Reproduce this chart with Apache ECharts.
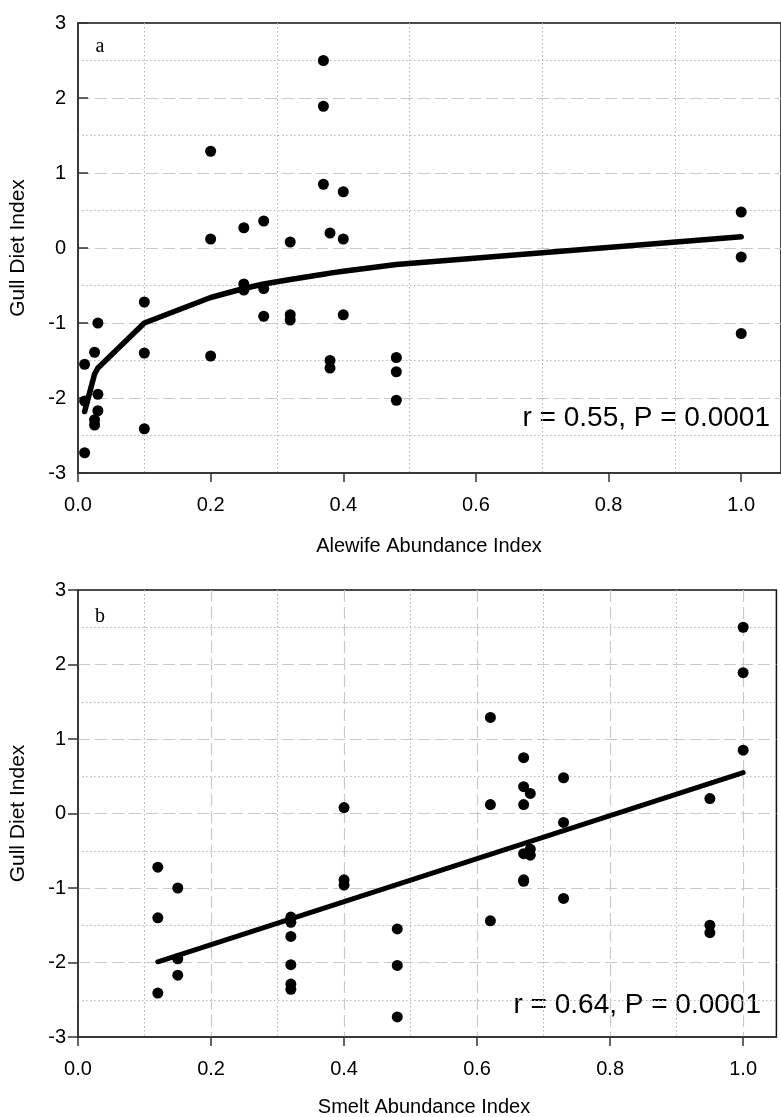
<!DOCTYPE html>
<html>
<head>
<meta charset="utf-8">
<script src="https://cdn.jsdelivr.net/npm/echarts@6/dist/echarts.min.js"></script>
<style>
  html, body { margin: 0; padding: 0; background: #fff; }
  #chart { width: 781px; height: 1117px; }
</style>
</head>
<body>
<div id="chart"></div>
<script>
// one entry per year, three colonies per year
const alewifeIndex = [0.01, 0.025, 0.03, 0.10, 0.20, 0.25, 0.28, 0.32, 0.37, 0.38, 0.40, 0.48, 1.00];
const smeltIndex   = [0.48, 0.32, 0.15, 0.12, 0.62, 0.68, 0.67, 0.40, 1.00, 0.95, 0.67, 0.32, 0.73];
const dietIndex = [
  [-1.55, -2.04, -2.73],
  [-1.39, -2.29, -2.36],
  [-1.00, -1.95, -2.17],
  [-0.72, -1.40, -2.41],
  [1.29, 0.12, -1.44],
  [0.27, -0.48, -0.56],
  [0.36, -0.54, -0.91],
  [0.08, -0.89, -0.96],
  [2.50, 1.89, 0.85],
  [0.20, -1.50, -1.60],
  [0.75, 0.12, -0.89],
  [-1.46, -1.65, -2.03],
  [0.48, -0.12, -1.14],
];

const alewifeFit = [-2.18, -1.68, -1.60, -1.00, -0.66, -0.54, -0.48, -0.42, -0.35, -0.335, -0.31, -0.22, 0.15];
// fitted line (panel b)
const smeltFitX = [0.12, 1.00];
const smeltFitY = [-1.99, 0.55];

const xTicks = [0, 0.2, 0.4, 0.6, 0.8, 1.0];
const panelLabels = ['a', 'b'];
const xTitles = ['Alewife Abundance Index', 'Smelt Abundance Index'];
const yTitle = 'Gull Diet Index';
const statTexts = ['r = 0.55, P = 0.0001', 'r = 0.64, P = 0.0001'];

const FONT = 'Liberation Sans, Arial, Helvetica, sans-serif';
const DASH = '#c9c9c9';
const DOT = '#b5b5b5';
const NONE = 'rgba(0,0,0,0)';

function points(xs) {
  const out = [];
  xs.forEach((x, i) => dietIndex[i].forEach(y => out.push([x, y])));
  return out;
}

function yAxis(gridIndex, tickInside) {
  return {
    type: 'value', gridIndex, min: -3, max: 3, interval: 1,
    name: yTitle, nameLocation: 'middle', nameGap: 49,
    nameTextStyle: { fontSize: 21, color: '#000', fontFamily: FONT },
    axisLine: { show: true, lineStyle: { color: '#333', width: 1.5 } },
    axisTick: { show: true, inside: tickInside, length: 10, lineStyle: { color: '#333', width: 1.5 } },
    axisLabel: { fontSize: 20, color: '#000', margin: 12, fontFamily: FONT },
    splitLine: { show: true, lineStyle: { color: [NONE, DASH, DASH, DASH, DASH, DASH, NONE], type: [12, 5], width: 1.2 } },
    minorTick: { show: false, splitNumber: 2 },
    minorSplitLine: { show: true, lineStyle: { color: DOT, type: [1.5, 2.5], width: 1 } },
  };
}

function xAxis(gridIndex, max, dashed) {
  return {
    type: 'value', gridIndex, min: 0, max, interval: 0.2, position: 'bottom',
    axisLine: { show: true, onZero: false, lineStyle: { color: '#333', width: 1.5 } },
    axisTick: { show: true, customValues: xTicks, length: 9, lineStyle: { color: '#333', width: 1.5 } },
    axisLabel: { customValues: xTicks, formatter: v => v.toFixed(1), fontSize: 20, color: '#000', margin: 22, fontFamily: FONT },
    splitLine: { show: dashed, lineStyle: { color: [NONE, DASH, DASH, DASH, DASH, DASH, NONE], type: [12, 5], width: 1.2 } },
  };
}

// hidden axis, only for the dotted lines at odd tenths
function dotAxis(gridIndex, max) {
  return {
    type: 'value', gridIndex, min: 0, max, interval: 0.1, position: 'top',
    axisLine: { show: false }, axisTick: { show: false }, axisLabel: { show: false },
    splitLine: { show: true, lineStyle: { color: [NONE, DOT, NONE, DOT, NONE, DOT, NONE, DOT, NONE, DOT, NONE, NONE], type: [1.5, 2.5], width: 1 } },
  };
}

function text(x, y, str, size, align, family) {
  return {
    type: 'text', x, y, silent: true,
    style: { text: str, fontSize: size, fontFamily: family || FONT, fill: '#000', align, verticalAlign: 'middle' },
  };
}

const chart = echarts.init(document.getElementById('chart'), null, { renderer: 'canvas' });
chart.setOption({
  animation: false,
  backgroundColor: '#fff',
  grid: [
    { left: 77, top: 23, width: 715.5, height: 450, show: true, borderColor: '#111', borderWidth: 1.5 },
    { left: 76, top: 590, width: 700.4, height: 447, show: true, borderColor: '#111', borderWidth: 1.5 },
  ],
  xAxis: [xAxis(0, 1.06, false), dotAxis(0, 1.06), xAxis(1, 1.05, true), dotAxis(1, 1.05)],
  yAxis: [yAxis(0, true), yAxis(1, false)],
  series: [
    {
      type: 'line', xAxisIndex: 0, yAxisIndex: 0, symbol: 'none', z: 3,
      lineStyle: { color: '#000', width: 5.5, join: 'round', cap: 'round' },
      data: alewifeIndex.map((x, i) => [x, alewifeFit[i]]),
    },
    {
      type: 'scatter', xAxisIndex: 0, yAxisIndex: 0, symbolSize: 11, z: 4,
      itemStyle: { color: '#000', opacity: 1 },
      data: points(alewifeIndex),
    },
    {
      type: 'line', xAxisIndex: 2, yAxisIndex: 1, symbol: 'none', z: 3,
      lineStyle: { color: '#000', width: 5, cap: 'round' },
      data: smeltFitX.map((x, i) => [x, smeltFitY[i]]),
    },
    {
      type: 'scatter', xAxisIndex: 2, yAxisIndex: 1, symbolSize: 11, z: 4,
      itemStyle: { color: '#000', opacity: 1 },
      data: points(smeltIndex),
    },
  ],
  graphic: [
    text(100, 47, panelLabels[0], 20, 'center', 'Liberation Serif, Times New Roman, serif'),
    text(100, 617, panelLabels[1], 20, 'center', 'Liberation Serif, Times New Roman, serif'),
    text(770, 418, statTexts[0], 28, 'right'),
    text(761, 1005, statTexts[1], 28, 'right'),
    text(429, 546, xTitles[0], 20, 'center'),
    text(424, 1107, xTitles[1], 20, 'center'),
  ],
});
</script>
</body>
</html>
